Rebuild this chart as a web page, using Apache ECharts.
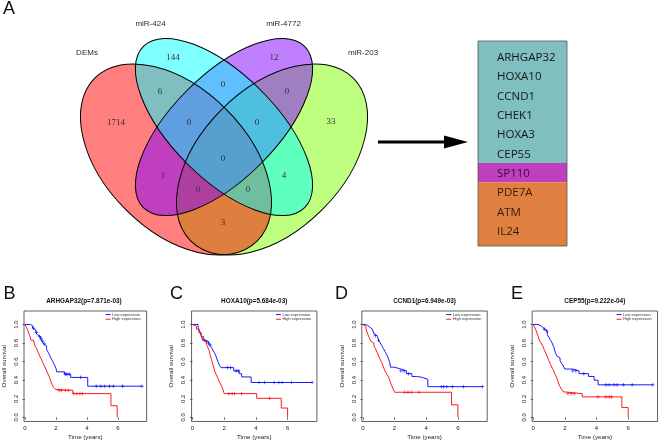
<!DOCTYPE html>
<html><head><meta charset="utf-8">
<script src="https://cdn.jsdelivr.net/npm/echarts@6/dist/echarts.min.js"></script>
<style>html,body{margin:0;padding:0;background:#fff}#c{width:660px;height:443px}</style>
</head><body><div id="c"></div><script>
// ================= DATA =================
const vennSets = ['DEMs', 'miR-424', 'miR-4772', 'miR-203'];
const regionSets = [
  ['miR-424'], ['miR-4772'], ['DEMs','miR-424'], ['miR-424','miR-4772'], ['miR-4772','miR-203'],
  ['DEMs'], ['DEMs','miR-424','miR-4772'], ['miR-424','miR-4772','miR-203'], ['miR-203'],
  ['DEMs','miR-424','miR-4772','miR-203'], ['DEMs','miR-4772'], ['miR-424','miR-203'],
  ['DEMs','miR-4772','miR-203'], ['DEMs','miR-424','miR-203'], ['DEMs','miR-203']
];
const regionCounts = [144, 12, 6, 0, 0, 1714, 0, 0, 33, 0, 1, 4, 0, 0, 3];

const geneList = ['ARHGAP32','HOXA10','CCND1','CHEK1','HOXA3','CEP55','SP110','PDE7A','ATM','IL24'];
const geneGroupSets = ['DEMs∩miR-424', 'DEMs∩miR-4772', 'DEMs∩miR-203'];
const geneGroupSizes = [6, 1, 3];

const kmTitles = ['ARHGAP32(p=7.871e-03)', 'HOXA10(p=5.684e-03)', 'CCND1(p=6.949e-03)', 'CEP55(p=9.222e-04)'];
const panelLetters = ['B', 'C', 'D', 'E'];
const groupNames = ['Low expression', 'High expression'];
const xTicks = [0, 2, 4, 6];
const yTicks = [0, 0.2, 0.4, 0.6, 0.8, 1.0];

const lowB = [[0,1],[0.35,0.985],[0.5,0.96],[0.6,0.94],[0.7,0.915],[0.8,0.89],[0.9,0.87],[1.0,0.845],[1.1,0.82],[1.2,0.79],[1.3,0.77],[1.4,0.73],[1.5,0.70],[1.6,0.665],[1.7,0.63],[1.8,0.60],[1.9,0.565],[2.0,0.53],[2.05,0.49],[2.55,0.465],[2.95,0.43],[4.05,0.335],[7.55,0.335]];
const highB = [[0,1],[0.1,0.97],[0.2,0.93],[0.3,0.88],[0.4,0.83],[0.55,0.81],[0.65,0.77],[0.75,0.74],[0.85,0.70],[0.95,0.66],[1.05,0.63],[1.15,0.59],[1.25,0.555],[1.35,0.52],[1.45,0.48],[1.55,0.445],[1.65,0.40],[1.75,0.355],[1.85,0.32],[1.95,0.30],[2.0,0.29],[3.1,0.255],[5.55,0.125],[5.95,0]];
const lowC = [[0,1],[0.35,0.97],[0.45,0.93],[0.55,0.88],[0.65,0.83],[0.8,0.815],[1.0,0.80],[1.1,0.78],[1.2,0.75],[1.3,0.72],[1.4,0.69],[1.5,0.65],[1.6,0.60],[1.7,0.56],[1.8,0.535],[2.6,0.50],[2.95,0.47],[3.1,0.435],[3.7,0.375],[7.55,0.375]];
const highC = [[0,1],[0.1,0.98],[0.25,0.95],[0.4,0.91],[0.55,0.87],[0.7,0.83],[0.85,0.80],[0.95,0.76],[1.05,0.72],[1.12,0.67],[1.2,0.62],[1.3,0.56],[1.4,0.50],[1.5,0.46],[1.6,0.42],[1.7,0.38],[1.8,0.35],[1.9,0.31],[2.0,0.255],[4.05,0.205],[5.6,0.10],[6.0,0]];
const lowD = [[0,1],[0.15,0.99],[0.3,0.97],[0.45,0.95],[0.6,0.93],[0.7,0.90],[0.8,0.88],[0.9,0.86],[1.0,0.83],[1.1,0.80],[1.2,0.77],[1.3,0.74],[1.4,0.71],[1.5,0.68],[1.6,0.64],[1.7,0.59],[1.75,0.54],[2.0,0.52],[2.4,0.50],[2.75,0.47],[3.1,0.44],[3.4,0.43],[3.75,0.41],[4.1,0.33],[7.55,0.33]];
const highD = [[0,1],[0.1,0.98],[0.2,0.95],[0.3,0.90],[0.4,0.86],[0.5,0.82],[0.6,0.80],[0.7,0.77],[0.8,0.74],[0.9,0.70],[1.0,0.66],[1.1,0.62],[1.2,0.59],[1.3,0.54],[1.4,0.50],[1.5,0.47],[1.6,0.44],[1.7,0.40],[1.8,0.35],[1.9,0.31],[2.0,0.27],[5.6,0.135],[6.0,0]];
const lowE = [[0,1],[0.3,0.99],[0.45,0.97],[0.6,0.95],[0.75,0.93],[0.9,0.89],[1.0,0.86],[1.1,0.83],[1.2,0.80],[1.3,0.76],[1.4,0.70],[1.5,0.66],[1.6,0.64],[1.7,0.61],[1.8,0.58],[1.9,0.555],[2.0,0.52],[2.5,0.50],[2.9,0.47],[3.5,0.44],[3.85,0.40],[4.1,0.35],[7.55,0.35]];
const highE = [[0,1],[0.1,0.97],[0.2,0.93],[0.3,0.88],[0.4,0.83],[0.5,0.80],[0.6,0.77],[0.7,0.73],[0.8,0.69],[0.9,0.65],[1.0,0.61],[1.1,0.57],[1.2,0.53],[1.3,0.50],[1.4,0.46],[1.5,0.42],[1.6,0.37],[1.7,0.33],[1.8,0.30],[1.9,0.275],[2.0,0.255],[3.1,0.22],[5.6,0.105],[6.0,0]];

const censorLowB = [0.55,0.75,0.95,1.05,1.15,1.25,2.6,2.7,2.85,3.6,4.6,4.9,5.15,5.45,5.7,6.3,7.55];
const censorHighB = [2.2,2.35,2.6,2.8,3.15,3.35,3.55,3.7];
const censorLowC = [0.75,0.9,1.0,1.1,2.2,2.4,2.75,2.9,4.2,4.55,5.15,5.45,5.65,6.25,7.55];
const censorHighC = [2.3,2.5,2.65,3.1,4.85];
const censorLowD = [0.8,1.0,2.4,2.6,2.9,4.95,5.1,5.3,5.65,6.35,7.55];
const censorHighD = [2.65,2.85,3.05,3.55];
const censorLowE = [0.7,0.85,2.5,2.7,3.2,4.6,4.8,5.1,5.3,5.7,6.25,7.55];
const censorHighE = [2.2,2.4,2.6,4.1,4.6,4.8,4.95];

// ================= LAYOUT / STYLE =================
const vennColors = ['rgba(255,0,0,0.5)', 'rgba(0,255,255,0.5)', 'rgba(128,0,255,0.5)', 'rgba(128,255,0,0.5)'];
const vennShapes = [
  {cx:176, cy:159.5, rx:115, ry:71, rot:-45},
  {cx:224, cy:127, rx:114, ry:52, rot:-45},
  {cx:224, cy:127, rx:114, ry:52, rot:45},
  {cx:272, cy:159.5, rx:115, ry:71, rot:45}
];
const vennDrawOrder = [3, 0, 2, 1];
const setLabelPos = [[87,52.5],[150.5,24],[283.5,24],[363,53]];
const regionLabelPos = [[173,58],[274,58],[160,92],[223,85],[287,92],[116,123],[189,123],[257,123],[331,122],[223,159],[163,176],[284,176],[198,190],[248,190],[223,223]];
const geneBox = {x0:478, x1:567, y0:41, y1:246, textX:497, firstY:57.7, step:19.33};
const geneGroupFill = ['#80BFBF', '#BF40BF', '#DF8040'];
const geneGroupText = ['#151515', '#3a0a3a', '#3a1a08'];
const kmTick0 = [22.2, 192.5, 362.8, 533.1];
const letterX = [3.5, 170, 335, 511];
const X_MIN = -0.06, X_MAX = 7.85, PX_PER_YEAR = 15.85;
const Y_MIN = -0.045, Y_MAX = 1.145, GRID_TOP = 311, GRID_H = 110.5;
const GRID_W = (X_MAX - X_MIN) * PX_PER_YEAR;

function stepAt(curve, t) {
  let v = curve[0][1];
  for (const p of curve) { if (p[0] <= t) v = p[1]; else break; }
  return v;
}

const kmLow = [lowB, lowC, lowD, lowE];
const kmHigh = [highB, highC, highD, highE];
const kmCensorLow = [censorLowB, censorLowC, censorLowD, censorLowE];
const kmCensorHigh = [censorHighB, censorHighC, censorHighD, censorHighE];

const plusPath = 'path://M4,0h2v4h4v2h-4v4h-2v-4h-4v-2h4z';

const grids = [{left:0, top:0, width:660, height:443, show:false}];
const xAxes = [{type:'value', gridIndex:0, min:0, max:660, show:false}];
const yAxes = [{type:'value', gridIndex:0, min:0, max:443, inverse:true, show:false}];
const series = [];
const legends = [];
const graphics = [];

const axisFont = {fontSize:6, color:'#222', fontFamily:'Liberation Sans'};

for (let i = 0; i < 4; i++) {
  const left = kmTick0[i] + X_MIN * PX_PER_YEAR;
  grids.push({left: left, top: GRID_TOP, width: GRID_W, height: GRID_H, show: true, borderColor: '#3a3a3a', borderWidth: 0.8, backgroundColor: 'transparent'});
  xAxes.push({
    type:'value', gridIndex:i+1, min:X_MIN, max:X_MAX,
    name:'Time (years)', nameLocation:'middle', nameGap:12.5,
    nameTextStyle:{fontSize:6.2, color:'#222', fontFamily:'Liberation Sans'},
    axisLine:{show:false}, splitLine:{show:false},
    axisTick:{show:true, customValues:xTicks, length:2.5, lineStyle:{color:'#3a3a3a', width:0.7}},
    axisLabel:{customValues:xTicks, margin:3.5, formatter:v=>String(Math.round(v)), ...axisFont}
  });
  yAxes.push({
    type:'value', gridIndex:i+1, min:Y_MIN, max:Y_MAX,
    name:'Overall survival', nameLocation:'middle', nameGap:17, nameRotate:90,
    nameTextStyle:{fontSize:6.2, color:'#222', fontFamily:'Liberation Sans'},
    axisLine:{show:false}, splitLine:{show:false},
    axisTick:{show:true, customValues:yTicks, length:2.5, lineStyle:{color:'#3a3a3a', width:0.7}},
    axisLabel:{show:false}
  });
  // rotated y tick labels placed through the panel's own y scale
  series.push({
    type:'custom', xAxisIndex:i+1, yAxisIndex:i+1, silent:true, animation:false, clip:false,
    data: yTicks.map(v => [X_MIN, v]),
    renderItem: function (params, api) {
      const c = api.coord([api.value(0), api.value(1)]);
      return {type:'text', x:c[0] - 7.8, y:c[1], rotation: Math.PI/2,
        style:{text: yTicks[params.dataIndex].toFixed(1), fill:'#222', font:'6px "Liberation Sans"', align:'center', verticalAlign:'middle'}};
    }
  });
  const curves = [kmLow[i], kmHigh[i]];
  const cens = [kmCensorLow[i], kmCensorHigh[i]];
  const cols = ['#0000FF', '#FF0000'];
  for (let g = 0; g < 2; g++) {
    series.push({
      type:'line', name:groupNames[g], xAxisIndex:i+1, yAxisIndex:i+1, step:'end',
      data:curves[g], showSymbol:false, symbol:'none', color:cols[g],
      lineStyle:{width:0.9, color:cols[g]}, animation:false, silent:true
    });
    series.push({
      type:'scatter', name:groupNames[g] + ' censored', xAxisIndex:i+1, yAxisIndex:i+1,
      data:cens[g].map(t => [t, stepAt(curves[g], t)]),
      symbol:plusPath, symbolSize:3.6, itemStyle:{color:cols[g]}, animation:false, silent:true
    });
  }
  const boxRight = left + GRID_W;
  legends.push({
    data:groupNames, orient:'vertical', left: boxRight - 41, top: GRID_TOP + 1.6,
    icon:'rect', itemWidth:5, itemHeight:0.9, itemGap:0.6, padding:0,
    selectedMode:false,
    textStyle:{fontSize:4, color:'#333', fontFamily:'Liberation Sans', padding:[0,0,0,-3.5]}
  });
  graphics.push({type:'text', x: left + GRID_W/2, y: 301,
    style:{text: kmTitles[i], fill:'#111', font:'bold 6.4px "Liberation Sans"', align:'center', verticalAlign:'middle'}});
  graphics.push({type:'text', x: letterX[i], y: 294.5,
    style:{text: panelLetters[i], fill:'#111', font:'18px "Liberation Sans"', align:'left', verticalAlign:'middle'}});
}

graphics.push({type:'text', x:3, y:9.5, style:{text:'A', fill:'#111', font:'18px "Liberation Sans"', align:'left', verticalAlign:'middle'}});
// arrow
graphics.push({type:'line', shape:{x1:378, y1:142, x2:447, y2:142}, style:{stroke:'#000', lineWidth:3}});
graphics.push({type:'polygon', shape:{points:[[444,135.5],[468,142],[444,148.5]]}, style:{fill:'#000'}});

// Venn fills
series.push({
  type:'custom', xAxisIndex:0, yAxisIndex:0, coordinateSystem:'cartesian2d', silent:true, animation:false,
  data: vennDrawOrder.map(k => [k]),
  renderItem: function (params, api) {
    const k = vennDrawOrder[params.dataIndex];
    const e = vennShapes[k];
    const c = api.coord([e.cx, e.cy]);
    const s = api.size([e.rx, e.ry]);
    return {type:'ellipse', x:c[0], y:c[1], rotation: e.rot * Math.PI / 180,
      shape:{cx:0, cy:0, rx:s[0], ry:s[1]}, style:{fill: vennColors[k], stroke:null}};
  }
});
// Venn outlines
series.push({
  type:'custom', xAxisIndex:0, yAxisIndex:0, coordinateSystem:'cartesian2d', silent:true, animation:false,
  data: vennDrawOrder.map(k => [k]),
  renderItem: function (params, api) {
    const k = vennDrawOrder[params.dataIndex];
    const e = vennShapes[k];
    const c = api.coord([e.cx, e.cy]);
    const s = api.size([e.rx, e.ry]);
    return {type:'ellipse', x:c[0], y:c[1], rotation: e.rot * Math.PI / 180,
      shape:{cx:0, cy:0, rx:s[0], ry:s[1]}, style:{fill:'none', stroke:'#000', lineWidth:1}};
  }
});
// Set labels
series.push({
  type:'custom', xAxisIndex:0, yAxisIndex:0, silent:true, animation:false,
  data: vennSets.map((n, i) => [setLabelPos[i][0], setLabelPos[i][1]]),
  renderItem: function (params, api) {
    const c = api.coord([api.value(0), api.value(1)]);
    return {type:'text', x:c[0], y:c[1], style:{text: vennSets[params.dataIndex], fill:'#2a2a2a', font:'8px "Liberation Sans"', align:'center', verticalAlign:'middle'}};
  }
});
// Region counts
series.push({
  type:'custom', xAxisIndex:0, yAxisIndex:0, silent:true, animation:false,
  data: regionCounts.map((n, i) => [regionLabelPos[i][0], regionLabelPos[i][1], n]),
  renderItem: function (params, api) {
    const c = api.coord([api.value(0), api.value(1)]);
    return {type:'text', x:c[0], y:c[1], style:{text: String(regionCounts[params.dataIndex]), fill:'#333', font:'9px "Liberation Serif"', align:'center', verticalAlign:'middle'}};
  }
});
// Gene table
const geneGroupOf = [];
geneGroupSizes.forEach((n, g) => { for (let j = 0; j < n; j++) geneGroupOf.push(g); });
series.push({
  type:'custom', xAxisIndex:0, yAxisIndex:0, silent:true, animation:false,
  data: geneGroupSizes.map((n, g) => [g]),
  renderItem: function (params, api) {
    const g = params.dataIndex;
    let first = 0; for (let k = 0; k < g; k++) first += geneGroupSizes[k];
    const last = first + geneGroupSizes[g] - 1;
    const yTop = g === 0 ? geneBox.y0 : geneBox.firstY + geneBox.step * (first - 1) + 8.6;
    const yBot = g === geneGroupSizes.length - 1 ? geneBox.y1 : geneBox.firstY + geneBox.step * last + 8.6;
    const p0 = api.coord([geneBox.x0, yTop]);
    const p1 = api.coord([geneBox.x1, yBot]);
    return {type:'rect', shape:{x:p0[0], y:p0[1], width:p1[0]-p0[0], height:p1[1]-p0[1]}, style:{fill: geneGroupFill[g]}};
  }
});
series.push({
  type:'custom', xAxisIndex:0, yAxisIndex:0, silent:true, animation:false,
  data: geneList.map((n, i) => [i]),
  renderItem: function (params, api) {
    const i = params.dataIndex;
    const c = api.coord([geneBox.textX, geneBox.firstY + geneBox.step * i]);
    return {type:'text', x:c[0], y:c[1], style:{text: geneList[i], fill: geneGroupText[geneGroupOf[i]], font:'11.5px "Open Sans"', align:'left', verticalAlign:'middle'}};
  }
});
graphics.push({type:'rect', shape:{x:geneBox.x0, y:geneBox.y0, width:geneBox.x1-geneBox.x0, height:geneBox.y1-geneBox.y0}, style:{fill:'none', stroke:'#555', lineWidth:0.8}, z:100});

const chart = echarts.init(document.getElementById('c'));
chart.setOption({
  animation:false,
  backgroundColor:'#fff',
  grid: grids, xAxis: xAxes, yAxis: yAxes,
  legend: legends,
  series: series,
  graphic: graphics
});
</script></body></html>
